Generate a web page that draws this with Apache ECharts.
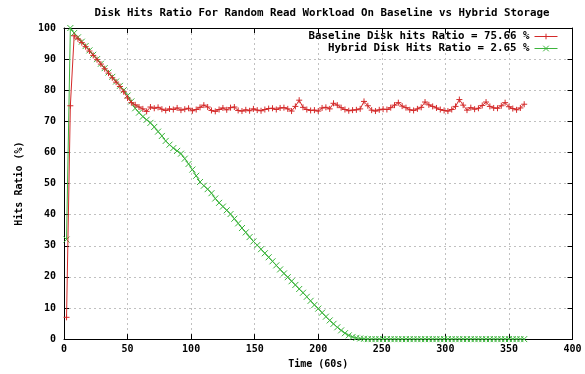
<!DOCTYPE html>
<html>
<head>
<meta charset="utf-8">
<script src="https://cdn.jsdelivr.net/npm/echarts@6/dist/echarts.min.js"></script>
<style>
html,body{margin:0;padding:0;background:#fff;}
#c{width:585px;height:374px;}
</style>
</head>
<body>
<div id="c"></div>
<script>
const titleText = 'Disk Hits Ratio For Random Read Workload On Baseline vs Hybrid Storage';
const xTicks = [0, 50, 100, 150, 200, 250, 300, 350, 400];
const yTicks = [0, 10, 20, 30, 40, 50, 60, 70, 80, 90, 100];
const time = [2,5,8,11,14,17,20,23,26,29,32,35,38,41,44,47,50,53,56,59,62,65,68,71,74,77,80,83,86,89,92,95,98,101,104,107,110,113,116,119,122,125,128,131,134,137,140,143,146,149,152,155,158,161,164,167,170,173,176,179,182,185,188,191,194,197,200,203,206,209,212,215,218,221,224,227,230,233,236,239,242,245,248,251,254,257,260,263,266,269,272,275,278,281,284,287,290,293,296,299,302,305,308,311,314,317,320,323,326,329,332,335,338,341,344,347,350,353,356,359,362];
const baseline = [7,75,97.5,96.5,95.3,94,92.6,91.2,89.8,88.4,86.9,85.5,84,82.6,81.2,79.5,77.5,76,75.3,74.6,74,73.2,74.6,74.2,74.5,73.9,73.5,74,73.8,74.3,73.6,73.9,74.2,73.4,73.8,74.5,75.2,74.6,73.5,73.2,73.8,74.3,73.7,74.4,74.6,73.5,73.3,73.7,73.4,74,73.6,73.4,73.8,74.1,74.2,73.8,74.3,74.4,74,73.3,74.8,76.8,74.5,73.8,73.5,73.6,73.3,74.3,74.5,74,75.8,75.2,74.4,73.8,73.4,73.6,73.7,74,76.4,75,73.6,73.3,73.7,73.9,73.8,74.4,75.2,76,74.9,74.4,73.7,73.5,74,74.5,76.2,75.3,74.8,74.3,73.8,73.5,73.3,73.8,74.8,77,75.2,73.6,74.4,73.9,74.2,75.1,76.2,74.8,74.3,74.2,75,76,74.7,74.1,73.7,74.3,75.5];
const hybrid = [32,100,98.4,97,95.6,94.2,92.8,91.4,90,88.5,87.1,85.7,84.3,82.8,81.4,80,78.3,76.4,74.2,72.8,71.5,70.5,69.5,68.2,66.7,65.3,63.7,62.5,61.4,60.5,59.6,58,56.3,54.5,52.5,50.5,49.3,48.2,46.9,45.2,43.8,42.6,41.4,40.2,38.7,37.2,35.7,34.3,32.8,31.4,30.2,28.9,27.6,26.3,25,23.7,22.4,21.1,19.9,18.6,17.4,16.1,14.9,13.6,12.3,11,9.8,8.5,7.2,6,4.9,3.8,2.8,1.9,1.2,0.7,0.4,0.2,0.1,0,0,0,0,0,0,0,0,0,0,0,0,0,0,0,0,0,0,0,0,0,0,0,0,0,0,0,0,0,0,0,0,0,0,0,0,0,0,0,0,0,0];
const seriesNames = ['Baseline Disk hits Ratio = 75.66 %', 'Hybrid Disk Hits Ratio = 2.65 %'];

const FONT = 'DejaVu Sans Mono';
const RED = '#d42a2a';
const GREEN = '#3cb43c';
const plus = 'path://M0,5L10,5M5,0L5,10';
const cross = 'path://M0,0L10,10M10,0L0,10';

const chart = echarts.init(document.getElementById('c'), null, {renderer: 'canvas'});
const txt = {fontFamily: FONT, fontWeight: 'bold', fontSize: 10, color: '#000'};
const gridLine = {show: true, lineStyle: {color: '#c0c0c0', type: [2, 3], width: 1}};
const frame = {show: true, onZero: false, lineStyle: {color: '#000', width: 1}};
const tick = {show: true, inside: true, length: 5, lineStyle: {color: '#000'}};
const legendBase = {right: 27, itemWidth: 23, itemHeight: 7, align: 'right', padding: 0,
  textStyle: Object.assign({}, txt, {fontSize: 10.8}),
  lineStyle: {width: 1}, itemStyle: {borderWidth: 1}};

chart.setOption({
  animation: false,
  backgroundColor: '#fff',
  title: {text: titleText, left: 317, top: 3, textAlign: 'center',
    textStyle: Object.assign({}, txt, {fontSize: 10.8})},
  legend: [
    Object.assign({}, legendBase, {data: [seriesNames[0]], top: 31}),
    Object.assign({}, legendBase, {data: [seriesNames[1]], top: 43})
  ],
  grid: {left: 64, right: 12.5, top: 28, bottom: 32, containLabel: false},
  xAxis: [
    {type: 'value', min: xTicks[0], max: xTicks[xTicks.length - 1], interval: 50,
      name: 'Time (60s)', nameLocation: 'middle', nameGap: 19, nameTextStyle: txt,
      axisLine: frame, axisTick: tick, splitLine: gridLine,
      axisLabel: Object.assign({}, txt, {margin: 5})},
    {type: 'value', position: 'top', min: xTicks[0], max: xTicks[xTicks.length - 1], interval: 50,
      axisLine: frame, axisTick: tick, splitLine: {show: false}, axisLabel: {show: false}}
  ],
  yAxis: [
    {type: 'value', min: yTicks[0], max: yTicks[yTicks.length - 1], interval: 10,
      name: 'Hits Ratio (%)', nameLocation: 'middle', nameGap: 40, nameRotate: 90, nameTextStyle: txt,
      axisLine: frame, axisTick: tick, splitLine: gridLine,
      axisLabel: Object.assign({}, txt, {margin: 8})},
    {type: 'value', position: 'right', min: yTicks[0], max: yTicks[yTicks.length - 1], interval: 10,
      axisLine: frame, axisTick: tick, splitLine: {show: false}, axisLabel: {show: false}}
  ],
  series: [
    {name: seriesNames[0], type: 'line', data: time.map((t, i) => [t, baseline[i]]),
      symbol: plus, symbolSize: 6, showAllSymbol: true,
      lineStyle: {color: RED, width: 1},
      itemStyle: {color: 'rgba(0,0,0,0)', borderColor: RED, borderWidth: 1},
      z: 3},
    {name: seriesNames[1], type: 'line', data: time.map((t, i) => [t, hybrid[i]]),
      symbol: cross, symbolSize: 6, showAllSymbol: true,
      lineStyle: {color: GREEN, width: 1},
      itemStyle: {color: 'rgba(0,0,0,0)', borderColor: GREEN, borderWidth: 1},
      z: 2}
  ]
});
</script>
</body>
</html>
